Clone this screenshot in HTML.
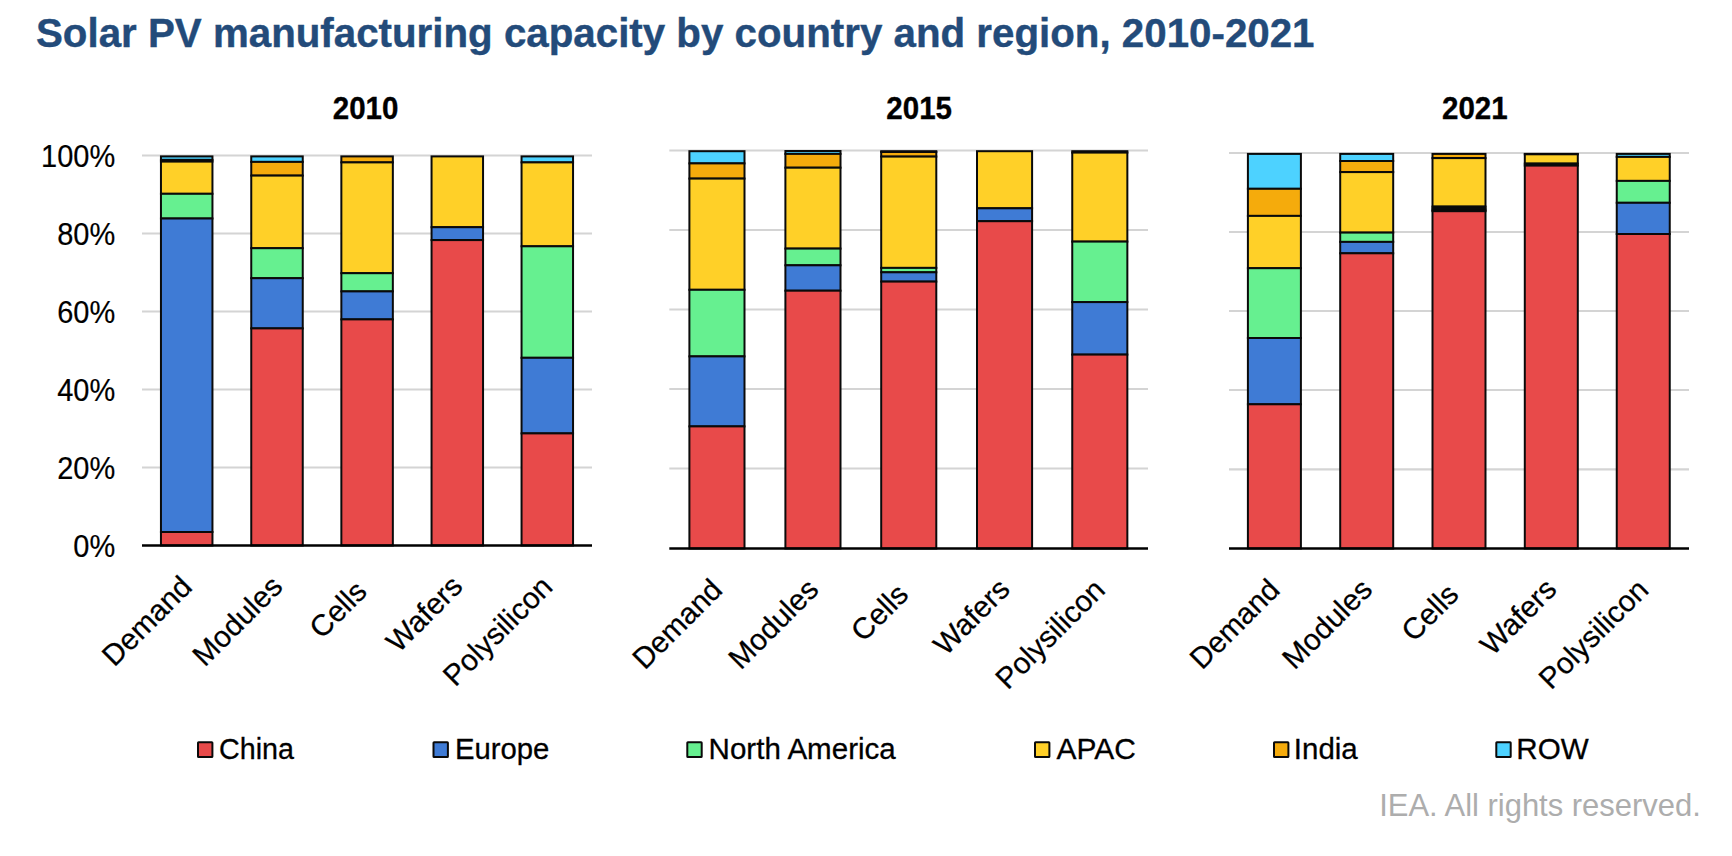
<!DOCTYPE html>
<html><head><meta charset="utf-8"><title>Solar PV manufacturing capacity</title>
<style>
html,body{margin:0;padding:0;background:#fff;}
body{width:1732px;height:856px;overflow:hidden;font-family:"Liberation Sans",sans-serif;}
svg{display:block;}
text{font-family:"Liberation Sans",sans-serif;}
</style></head><body>
<svg width="1732" height="856" viewBox="0 0 1732 856">
<rect width="1732" height="856" fill="#ffffff"/>
<text transform="translate(36,46.5) scale(0.983,1)" font-size="41" font-weight="bold" fill="#234B7A" stroke="#234B7A" stroke-width="0.4">Solar PV manufacturing capacity by country and region, 2010-2021</text>
<text transform="translate(115.2,166.5) scale(0.92,1)" font-size="31.5" text-anchor="end" fill="#000" stroke="#000" stroke-width="0.2">100%</text>
<text transform="translate(115.2,244.5) scale(0.92,1)" font-size="31.5" text-anchor="end" fill="#000" stroke="#000" stroke-width="0.2">80%</text>
<text transform="translate(115.2,322.5) scale(0.92,1)" font-size="31.5" text-anchor="end" fill="#000" stroke="#000" stroke-width="0.2">60%</text>
<text transform="translate(115.2,400.5) scale(0.92,1)" font-size="31.5" text-anchor="end" fill="#000" stroke="#000" stroke-width="0.2">40%</text>
<text transform="translate(115.2,478.5) scale(0.92,1)" font-size="31.5" text-anchor="end" fill="#000" stroke="#000" stroke-width="0.2">20%</text>
<text transform="translate(115.2,556.5) scale(0.92,1)" font-size="31.5" text-anchor="end" fill="#000" stroke="#000" stroke-width="0.2">0%</text>
<text transform="translate(365.6,118.9) scale(0.94,1)" font-size="31.4" font-weight="bold" text-anchor="middle" fill="#000" stroke="#000" stroke-width="0.35">2010</text>
<line x1="142" x2="592" y1="155.5" y2="155.5" stroke="#D4D4D4" stroke-width="2.2"/>
<line x1="142" x2="592" y1="233.5" y2="233.5" stroke="#D4D4D4" stroke-width="2.2"/>
<line x1="142" x2="592" y1="311.5" y2="311.5" stroke="#D4D4D4" stroke-width="2.2"/>
<line x1="142" x2="592" y1="389.5" y2="389.5" stroke="#D4D4D4" stroke-width="2.2"/>
<line x1="142" x2="592" y1="467.5" y2="467.5" stroke="#D4D4D4" stroke-width="2.2"/>
<rect x="160.95" y="156.40" width="51.50" height="3.50" fill="#4DD2FF" stroke="#0a0a0a" stroke-width="2.0"/>
<rect x="160.95" y="159.90" width="51.50" height="1.70" fill="#F5AB0C" stroke="#0a0a0a" stroke-width="2.0"/>
<rect x="160.95" y="161.60" width="51.50" height="32.20" fill="#FFD028" stroke="#0a0a0a" stroke-width="2.0"/>
<rect x="160.95" y="193.80" width="51.50" height="24.70" fill="#66F090" stroke="#0a0a0a" stroke-width="2.0"/>
<rect x="160.95" y="218.50" width="51.50" height="313.50" fill="#3F7BD5" stroke="#0a0a0a" stroke-width="2.0"/>
<rect x="160.95" y="532.00" width="51.50" height="13.50" fill="#E84A4A" stroke="#0a0a0a" stroke-width="2.0"/>
<text transform="translate(193.7,588.5) rotate(-45)" font-size="29.7" text-anchor="end" fill="#000" stroke="#000" stroke-width="0.25">Demand</text>
<rect x="251.25" y="156.40" width="51.50" height="5.50" fill="#4DD2FF" stroke="#0a0a0a" stroke-width="2.0"/>
<rect x="251.25" y="161.90" width="51.50" height="13.70" fill="#F5AB0C" stroke="#0a0a0a" stroke-width="2.0"/>
<rect x="251.25" y="175.60" width="51.50" height="72.60" fill="#FFD028" stroke="#0a0a0a" stroke-width="2.0"/>
<rect x="251.25" y="248.20" width="51.50" height="30.00" fill="#66F090" stroke="#0a0a0a" stroke-width="2.0"/>
<rect x="251.25" y="278.20" width="51.50" height="50.20" fill="#3F7BD5" stroke="#0a0a0a" stroke-width="2.0"/>
<rect x="251.25" y="328.40" width="51.50" height="217.10" fill="#E84A4A" stroke="#0a0a0a" stroke-width="2.0"/>
<text transform="translate(284.2,588.3) rotate(-45)" font-size="29.7" text-anchor="end" fill="#000" stroke="#000" stroke-width="0.25">Modules</text>
<rect x="341.35" y="156.40" width="51.50" height="6.00" fill="#F5AB0C" stroke="#0a0a0a" stroke-width="2.0"/>
<rect x="341.35" y="162.40" width="51.50" height="110.80" fill="#FFD028" stroke="#0a0a0a" stroke-width="2.0"/>
<rect x="341.35" y="273.20" width="51.50" height="18.20" fill="#66F090" stroke="#0a0a0a" stroke-width="2.0"/>
<rect x="341.35" y="291.40" width="51.50" height="28.00" fill="#3F7BD5" stroke="#0a0a0a" stroke-width="2.0"/>
<rect x="341.35" y="319.40" width="51.50" height="226.10" fill="#E84A4A" stroke="#0a0a0a" stroke-width="2.0"/>
<text transform="translate(368.4,593.3) rotate(-45)" font-size="29.7" text-anchor="end" fill="#000" stroke="#000" stroke-width="0.25">Cells</text>
<rect x="431.55" y="156.40" width="51.50" height="70.80" fill="#FFD028" stroke="#0a0a0a" stroke-width="2.0"/>
<rect x="431.55" y="227.20" width="51.50" height="12.90" fill="#3F7BD5" stroke="#0a0a0a" stroke-width="2.0"/>
<rect x="431.55" y="240.10" width="51.50" height="305.40" fill="#E84A4A" stroke="#0a0a0a" stroke-width="2.0"/>
<text transform="translate(464.3,588.0) rotate(-45)" font-size="29.7" text-anchor="end" fill="#000" stroke="#000" stroke-width="0.25">Wafers</text>
<rect x="521.55" y="156.40" width="51.50" height="6.00" fill="#4DD2FF" stroke="#0a0a0a" stroke-width="2.0"/>
<rect x="521.55" y="162.40" width="51.50" height="83.90" fill="#FFD028" stroke="#0a0a0a" stroke-width="2.0"/>
<rect x="521.55" y="246.30" width="51.50" height="111.50" fill="#66F090" stroke="#0a0a0a" stroke-width="2.0"/>
<rect x="521.55" y="357.80" width="51.50" height="75.60" fill="#3F7BD5" stroke="#0a0a0a" stroke-width="2.0"/>
<rect x="521.55" y="433.40" width="51.50" height="112.10" fill="#E84A4A" stroke="#0a0a0a" stroke-width="2.0"/>
<text transform="translate(554.3,588.5) rotate(-45)" font-size="29.7" text-anchor="end" fill="#000" stroke="#000" stroke-width="0.25">Polysilicon</text>
<line x1="142" x2="592" y1="545.5" y2="545.5" stroke="#000" stroke-width="2.6"/>
<text transform="translate(919.2,118.9) scale(0.94,1)" font-size="31.4" font-weight="bold" text-anchor="middle" fill="#000" stroke="#000" stroke-width="0.35">2015</text>
<line x1="669.3" x2="1148" y1="150.5" y2="150.5" stroke="#D4D4D4" stroke-width="2.2"/>
<line x1="669.3" x2="1148" y1="230" y2="230" stroke="#D4D4D4" stroke-width="2.2"/>
<line x1="669.3" x2="1148" y1="309.5" y2="309.5" stroke="#D4D4D4" stroke-width="2.2"/>
<line x1="669.3" x2="1148" y1="389" y2="389" stroke="#D4D4D4" stroke-width="2.2"/>
<line x1="669.3" x2="1148" y1="468.5" y2="468.5" stroke="#D4D4D4" stroke-width="2.2"/>
<rect x="689.40" y="151.20" width="55.10" height="12.20" fill="#4DD2FF" stroke="#0a0a0a" stroke-width="2.0"/>
<rect x="689.40" y="163.40" width="55.10" height="15.20" fill="#F5AB0C" stroke="#0a0a0a" stroke-width="2.0"/>
<rect x="689.40" y="178.60" width="55.10" height="111.20" fill="#FFD028" stroke="#0a0a0a" stroke-width="2.0"/>
<rect x="689.40" y="289.80" width="55.10" height="66.60" fill="#66F090" stroke="#0a0a0a" stroke-width="2.0"/>
<rect x="689.40" y="356.40" width="55.10" height="70.00" fill="#3F7BD5" stroke="#0a0a0a" stroke-width="2.0"/>
<rect x="689.40" y="426.40" width="55.10" height="122.10" fill="#E84A4A" stroke="#0a0a0a" stroke-width="2.0"/>
<text transform="translate(724.0,591.5) rotate(-45)" font-size="29.7" text-anchor="end" fill="#000" stroke="#000" stroke-width="0.25">Demand</text>
<rect x="785.40" y="151.00" width="55.10" height="2.90" fill="#4DD2FF" stroke="#0a0a0a" stroke-width="2.0"/>
<rect x="785.40" y="153.90" width="55.10" height="13.80" fill="#F5AB0C" stroke="#0a0a0a" stroke-width="2.0"/>
<rect x="785.40" y="167.70" width="55.10" height="80.90" fill="#FFD028" stroke="#0a0a0a" stroke-width="2.0"/>
<rect x="785.40" y="248.60" width="55.10" height="16.70" fill="#66F090" stroke="#0a0a0a" stroke-width="2.0"/>
<rect x="785.40" y="265.30" width="55.10" height="25.40" fill="#3F7BD5" stroke="#0a0a0a" stroke-width="2.0"/>
<rect x="785.40" y="290.70" width="55.10" height="257.80" fill="#E84A4A" stroke="#0a0a0a" stroke-width="2.0"/>
<text transform="translate(820.2,591.3) rotate(-45)" font-size="29.7" text-anchor="end" fill="#000" stroke="#000" stroke-width="0.25">Modules</text>
<rect x="881.20" y="151.20" width="55.10" height="0.80" fill="#4DD2FF" stroke="#0a0a0a" stroke-width="2.0"/>
<rect x="881.20" y="152.00" width="55.10" height="4.60" fill="#F5AB0C" stroke="#0a0a0a" stroke-width="2.0"/>
<rect x="881.20" y="156.60" width="55.10" height="111.30" fill="#FFD028" stroke="#0a0a0a" stroke-width="2.0"/>
<rect x="881.20" y="267.90" width="55.10" height="4.40" fill="#66F090" stroke="#0a0a0a" stroke-width="2.0"/>
<rect x="881.20" y="272.30" width="55.10" height="9.30" fill="#3F7BD5" stroke="#0a0a0a" stroke-width="2.0"/>
<rect x="881.20" y="281.60" width="55.10" height="266.90" fill="#E84A4A" stroke="#0a0a0a" stroke-width="2.0"/>
<text transform="translate(910.0,596.3) rotate(-45)" font-size="29.7" text-anchor="end" fill="#000" stroke="#000" stroke-width="0.25">Cells</text>
<rect x="977.00" y="151.20" width="55.10" height="0.00" fill="#F5AB0C" stroke="#0a0a0a" stroke-width="2.0"/>
<rect x="977.00" y="151.20" width="55.10" height="57.10" fill="#FFD028" stroke="#0a0a0a" stroke-width="2.0"/>
<rect x="977.00" y="208.30" width="55.10" height="12.90" fill="#3F7BD5" stroke="#0a0a0a" stroke-width="2.0"/>
<rect x="977.00" y="221.20" width="55.10" height="327.30" fill="#E84A4A" stroke="#0a0a0a" stroke-width="2.0"/>
<text transform="translate(1011.5,591.0) rotate(-45)" font-size="29.7" text-anchor="end" fill="#000" stroke="#000" stroke-width="0.25">Wafers</text>
<rect x="1072.25" y="151.20" width="55.10" height="0.00" fill="#4DD2FF" stroke="#0a0a0a" stroke-width="2.0"/>
<rect x="1072.25" y="151.20" width="55.10" height="1.40" fill="#F5AB0C" stroke="#0a0a0a" stroke-width="2.0"/>
<rect x="1072.25" y="152.60" width="55.10" height="89.00" fill="#FFD028" stroke="#0a0a0a" stroke-width="2.0"/>
<rect x="1072.25" y="241.60" width="55.10" height="60.50" fill="#66F090" stroke="#0a0a0a" stroke-width="2.0"/>
<rect x="1072.25" y="302.10" width="55.10" height="52.50" fill="#3F7BD5" stroke="#0a0a0a" stroke-width="2.0"/>
<rect x="1072.25" y="354.60" width="55.10" height="193.90" fill="#E84A4A" stroke="#0a0a0a" stroke-width="2.0"/>
<text transform="translate(1106.8,591.5) rotate(-45)" font-size="29.7" text-anchor="end" fill="#000" stroke="#000" stroke-width="0.25">Polysilicon</text>
<line x1="669.3" x2="1148" y1="548.5" y2="548.5" stroke="#000" stroke-width="2.6"/>
<text transform="translate(1474.8,118.9) scale(0.94,1)" font-size="31.4" font-weight="bold" text-anchor="middle" fill="#000" stroke="#000" stroke-width="0.35">2021</text>
<line x1="1229" x2="1689" y1="153" y2="153" stroke="#D4D4D4" stroke-width="2.2"/>
<line x1="1229" x2="1689" y1="232" y2="232" stroke="#D4D4D4" stroke-width="2.2"/>
<line x1="1229" x2="1689" y1="311" y2="311" stroke="#D4D4D4" stroke-width="2.2"/>
<line x1="1229" x2="1689" y1="390" y2="390" stroke="#D4D4D4" stroke-width="2.2"/>
<line x1="1229" x2="1689" y1="469.3" y2="469.3" stroke="#D4D4D4" stroke-width="2.2"/>
<rect x="1247.90" y="153.90" width="53.00" height="34.90" fill="#4DD2FF" stroke="#0a0a0a" stroke-width="2.0"/>
<rect x="1247.90" y="188.80" width="53.00" height="27.10" fill="#F5AB0C" stroke="#0a0a0a" stroke-width="2.0"/>
<rect x="1247.90" y="215.90" width="53.00" height="52.30" fill="#FFD028" stroke="#0a0a0a" stroke-width="2.0"/>
<rect x="1247.90" y="268.20" width="53.00" height="69.80" fill="#66F090" stroke="#0a0a0a" stroke-width="2.0"/>
<rect x="1247.90" y="338.00" width="53.00" height="66.30" fill="#3F7BD5" stroke="#0a0a0a" stroke-width="2.0"/>
<rect x="1247.90" y="404.30" width="53.00" height="144.20" fill="#E84A4A" stroke="#0a0a0a" stroke-width="2.0"/>
<text transform="translate(1281.4,591.5) rotate(-45)" font-size="29.7" text-anchor="end" fill="#000" stroke="#000" stroke-width="0.25">Demand</text>
<rect x="1340.20" y="153.90" width="53.00" height="7.10" fill="#4DD2FF" stroke="#0a0a0a" stroke-width="2.0"/>
<rect x="1340.20" y="161.00" width="53.00" height="11.10" fill="#F5AB0C" stroke="#0a0a0a" stroke-width="2.0"/>
<rect x="1340.20" y="172.10" width="53.00" height="60.50" fill="#FFD028" stroke="#0a0a0a" stroke-width="2.0"/>
<rect x="1340.20" y="232.60" width="53.00" height="9.30" fill="#66F090" stroke="#0a0a0a" stroke-width="2.0"/>
<rect x="1340.20" y="241.90" width="53.00" height="11.40" fill="#3F7BD5" stroke="#0a0a0a" stroke-width="2.0"/>
<rect x="1340.20" y="253.30" width="53.00" height="295.20" fill="#E84A4A" stroke="#0a0a0a" stroke-width="2.0"/>
<text transform="translate(1373.9,591.3) rotate(-45)" font-size="29.7" text-anchor="end" fill="#000" stroke="#000" stroke-width="0.25">Modules</text>
<rect x="1432.50" y="153.90" width="53.00" height="4.20" fill="#F5AB0C" stroke="#0a0a0a" stroke-width="2.0"/>
<rect x="1432.50" y="158.10" width="53.00" height="48.50" fill="#FFD028" stroke="#0a0a0a" stroke-width="2.0"/>
<rect x="1432.50" y="206.60" width="53.00" height="2.00" fill="#66F090" stroke="#0a0a0a" stroke-width="2.0"/>
<rect x="1432.50" y="208.60" width="53.00" height="1.60" fill="#3F7BD5" stroke="#0a0a0a" stroke-width="2.0"/>
<rect x="1432.50" y="210.20" width="53.00" height="1.00" fill="#3F7BD5" stroke="#0a0a0a" stroke-width="2.0"/>
<rect x="1432.50" y="211.20" width="53.00" height="337.30" fill="#E84A4A" stroke="#0a0a0a" stroke-width="2.0"/>
<text transform="translate(1460.3,596.3) rotate(-45)" font-size="29.7" text-anchor="end" fill="#000" stroke="#000" stroke-width="0.25">Cells</text>
<rect x="1524.80" y="153.90" width="53.00" height="0.40" fill="#F5AB0C" stroke="#0a0a0a" stroke-width="2.0"/>
<rect x="1524.80" y="154.30" width="53.00" height="9.30" fill="#FFD028" stroke="#0a0a0a" stroke-width="2.0"/>
<rect x="1524.80" y="163.60" width="53.00" height="2.00" fill="#3F7BD5" stroke="#0a0a0a" stroke-width="2.0"/>
<rect x="1524.80" y="165.60" width="53.00" height="382.90" fill="#E84A4A" stroke="#0a0a0a" stroke-width="2.0"/>
<text transform="translate(1558.3,591.0) rotate(-45)" font-size="29.7" text-anchor="end" fill="#000" stroke="#000" stroke-width="0.25">Wafers</text>
<rect x="1616.75" y="153.90" width="53.00" height="3.00" fill="#4DD2FF" stroke="#0a0a0a" stroke-width="2.0"/>
<rect x="1616.75" y="156.90" width="53.00" height="24.00" fill="#FFD028" stroke="#0a0a0a" stroke-width="2.0"/>
<rect x="1616.75" y="180.90" width="53.00" height="21.90" fill="#66F090" stroke="#0a0a0a" stroke-width="2.0"/>
<rect x="1616.75" y="202.80" width="53.00" height="31.20" fill="#3F7BD5" stroke="#0a0a0a" stroke-width="2.0"/>
<rect x="1616.75" y="234.00" width="53.00" height="314.50" fill="#E84A4A" stroke="#0a0a0a" stroke-width="2.0"/>
<text transform="translate(1650.2,591.5) rotate(-45)" font-size="29.7" text-anchor="end" fill="#000" stroke="#000" stroke-width="0.25">Polysilicon</text>
<line x1="1229" x2="1689" y1="548.5" y2="548.5" stroke="#000" stroke-width="2.6"/>
<rect x="198" y="742.2" width="14.4" height="14.8" rx="0.6" fill="#E84A4A" stroke="#0a0a0a" stroke-width="2"/>
<text transform="translate(219.0,759.2) scale(0.957,1)" font-size="30" fill="#000" stroke="#000" stroke-width="0.3">China</text>
<rect x="433.5" y="742.2" width="14.4" height="14.8" rx="0.6" fill="#3F7BD5" stroke="#0a0a0a" stroke-width="2"/>
<text transform="translate(454.9,759.2) scale(0.977,1)" font-size="30" fill="#000" stroke="#000" stroke-width="0.3">Europe</text>
<rect x="687.3" y="742.2" width="14.4" height="14.8" rx="0.6" fill="#66F090" stroke="#0a0a0a" stroke-width="2"/>
<text transform="translate(708.6,759.2) scale(0.985,1)" font-size="30" fill="#000" stroke="#000" stroke-width="0.3">North America</text>
<rect x="1035" y="742.2" width="14.4" height="14.8" rx="0.6" fill="#FFD028" stroke="#0a0a0a" stroke-width="2"/>
<text transform="translate(1056.6,759.2) scale(0.999,1)" font-size="30" fill="#000" stroke="#000" stroke-width="0.3">APAC</text>
<rect x="1274" y="742.2" width="14.4" height="14.8" rx="0.6" fill="#F5AB0C" stroke="#0a0a0a" stroke-width="2"/>
<text transform="translate(1293.8,759.2) scale(0.983,1)" font-size="30" fill="#000" stroke="#000" stroke-width="0.3">India</text>
<rect x="1496.3" y="742.2" width="14.4" height="14.8" rx="0.6" fill="#4DD2FF" stroke="#0a0a0a" stroke-width="2"/>
<text transform="translate(1516.3,759.2) scale(0.987,1)" font-size="30" fill="#000" stroke="#000" stroke-width="0.3">ROW</text>
<text transform="translate(1700.8,815.6) scale(0.98,1)" font-size="31.6" text-anchor="end" fill="#ADADAD">IEA. All rights reserved.</text>
</svg>
</body></html>
